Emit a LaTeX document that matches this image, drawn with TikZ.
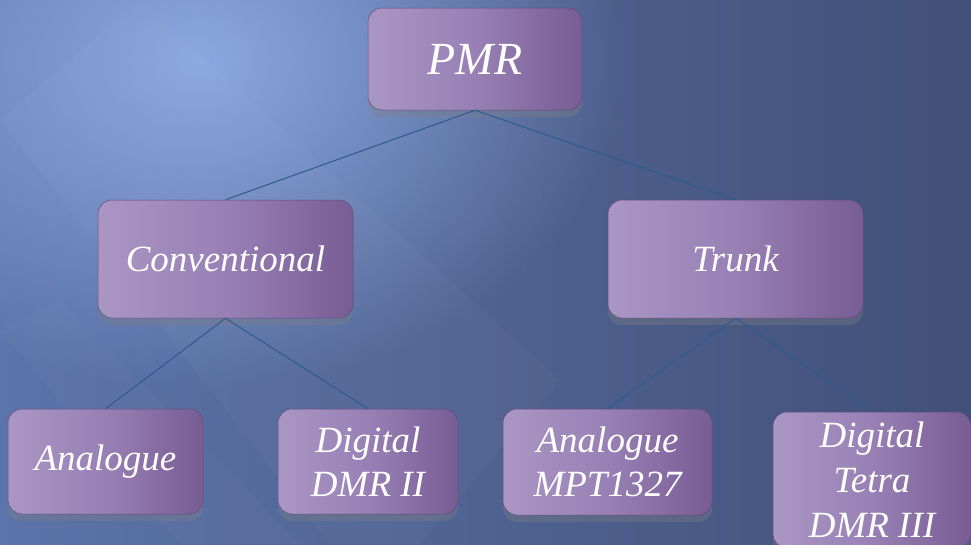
\documentclass[tikz,border=0pt]{standalone}
\usepackage{fontspec}
\setmainfont{Liberation Serif}
\usepackage{xcolor}
\usepackage{tikz}
\usetikzlibrary{shadows,fadings}

\definecolor{bgLight}{RGB}{150,178,235}
\definecolor{bgMid}{RGB}{92,116,170}
\definecolor{bgDark}{RGB}{66,80,120}
\definecolor{boxLight}{RGB}{170,150,196}
\definecolor{boxMid}{RGB}{152,128,180}
\definecolor{boxDark}{RGB}{120,92,148}
\definecolor{boxEdge}{RGB}{98,74,124}
\definecolor{linkCol}{RGB}{42,92,145}

\tikzfading[name=glowfade, inner color=transparent!15, outer color=transparent!100]

\begin{document}
\begin{tikzpicture}[x=1pt, y=-1pt,
        box/.style={rectangle, rounded corners=14pt, draw=boxEdge, line width=0.5pt,
            left color=boxLight, right color=boxDark, middle color=boxMid,
            text=white, font=\itshape\fontsize{37}{44}\selectfont, align=center,
            inner sep=0pt,
            drop shadow={opacity=0.35, shadow xshift=0pt, shadow yshift=-7pt}},
        link/.style={draw=linkCol, line width=1pt}]
        \useasboundingbox (0,0) rectangle (971,544);
        \clip (0,0) rectangle (971,544);

        % Background
        \shade[left color=bgMid, right color=bgDark] (0,0) rectangle (971,544);
        \fill[bgLight, path fading=glowfade] (200,60) ellipse (430 and 330);
        \fill[white, opacity=0.025] (0,120) -- (140,0) -- (560,380) -- (420,544) -- (330,544) -- cycle;
        \fill[white, opacity=0.02] (0,330) -- (60,300) -- (300,544) -- (180,544) -- cycle;

        % Top
        \node[box, minimum width=214pt, minimum height=102pt,
            font=\itshape\fontsize{46}{52}\selectfont] (pmr) at (475,59) {PMR};

        % Middle row
        \node[box, minimum width=255pt, minimum height=118pt] (conv) at (225.5,259) {Conventional};
        \node[box, minimum width=255pt, minimum height=118pt] (trunk) at (735.5,259) {Trunk};

        % Bottom row
        \node[box, minimum width=195pt, minimum height=105pt] (analogue) at (105.5,461.5) {Analogue};
        \node[box, minimum width=180pt, minimum height=105pt] (dmr) at (368,461.5) {Digital\\DMR II};
        \node[box, minimum width=209pt, minimum height=106pt] (mpt) at (607.5,462) {Analogue\\MPT1327};
        \node[box, minimum width=198pt, minimum height=136pt,
            font=\itshape\fontsize{37}{45}\selectfont] (tetra) at (872,480) {Digital\\Tetra\\DMR III};

        % Links
        \draw[link] (pmr.south) -- (conv.north);
        \draw[link] (pmr.south) -- (trunk.north);
        \draw[link] (conv.south) -- (analogue.north);
        \draw[link] (conv.south) -- (dmr.north);
        \draw[link] (trunk.south) -- (mpt.north);
        \draw[link] (trunk.south) -- (tetra.north);
    \end{tikzpicture}
\end{document}
